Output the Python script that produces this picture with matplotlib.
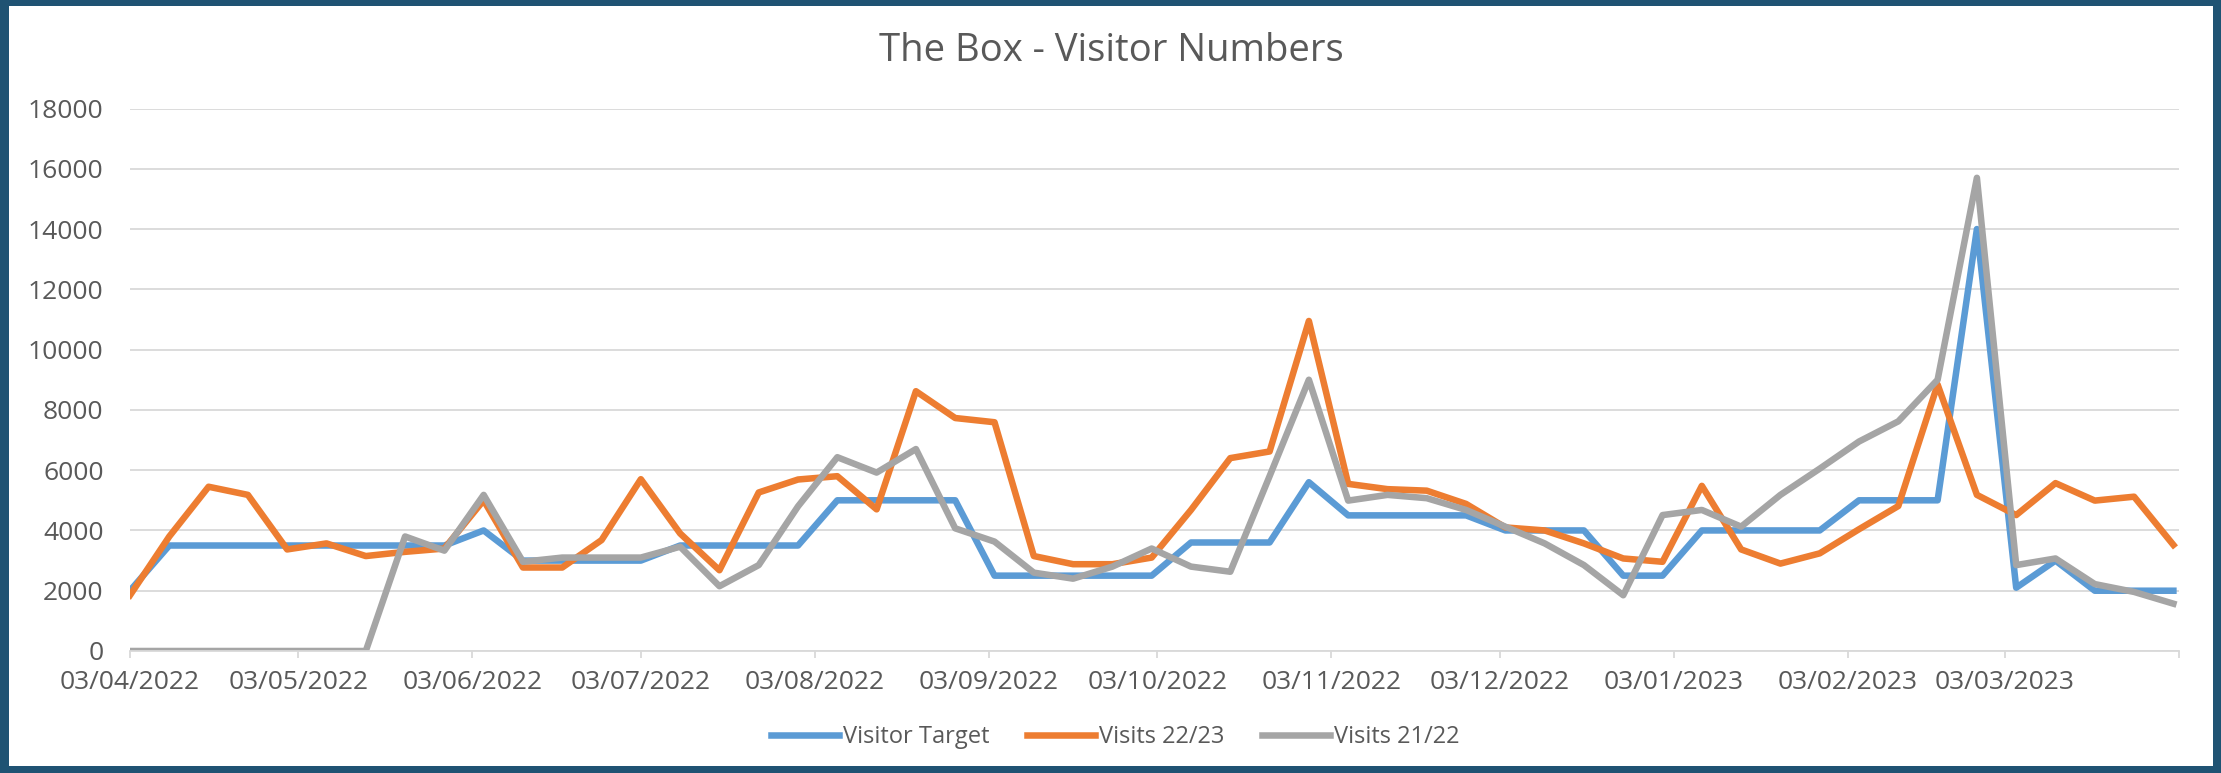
import datetime
import pandas as pd
import matplotlib
matplotlib.use('Agg')
import matplotlib.pyplot as plt
from matplotlib.patches import Rectangle

plt.rcParams['font.family'] = ['Open Sans', 'DejaVu Sans']

# weekly figures, first week starting 03/04/2022
weeks = pd.date_range('2022-04-03', periods=53, freq='7D')

visitor_target = [2000, 3500, 3500, 3500, 3500, 3500, 3500, 3500, 3500, 4000,
                  3000, 3000, 3000, 3000, 3500, 3500, 3500, 3500, 5000, 5000,
                  5000, 5000, 2500, 2500, 2500, 2500, 2500, 3600, 3600, 3600,
                  5600, 4500, 4500, 4500, 4500, 4000, 4000, 4000, 2500, 2500,
                  4000, 4000, 4000, 4000, 5000, 5000, 5000, 14000, 2100, 3000,
                  2000, 2000, 2000]

visits_22_23 = [1850, 3800, 5450, 5180, 3370, 3570, 3150, 3290, 3400, 5000,
                2770, 2770, 3680, 5700, 3900, 2680, 5260, 5690, 5800, 4700,
                8620, 7730, 7590, 3150, 2880, 2880, 3100, 4680, 6400, 6620,
                10950, 5545, 5370, 5320, 4880, 4100, 4000, 3570, 3070, 2960,
                5480, 3370, 2900, 3240, 4040, 4810, 8840, 5180, 4510, 5570,
                4990, 5120, 3520]

visits_21_22 = [0, 0, 0, 0, 0, 0, 0, 3800, 3330, 5180,
                2960, 3100, 3100, 3100, 3460, 2150, 2850, 4800, 6430, 5920,
                6700, 4070, 3630, 2600, 2400, 2800, 3400, 2800, 2630, 5800,
                9000, 4990, 5180, 5070, 4680, 4125, 3570, 2850, 1850, 4510,
                4680, 4125, 5180, 6050, 6950, 7620, 9000, 15700, 2850, 3070,
                2220, 1960, 1570]

series = [('Visitor Target', visitor_target, '#5B9BD5'),
          ('Visits 22/23', visits_22_23, '#ED7D31'),
          ('Visits 21/22', visits_21_22, '#A5A5A5')]

W, H = 2221, 773
fig = plt.figure(figsize=(W / 100, H / 100), dpi=100, facecolor='#1F5373')
fig.patches.append(Rectangle((9 / W, 7 / H), (W - 17) / W, (H - 13) / H,
                             transform=fig.transFigure, facecolor='white',
                             edgecolor='none', zorder=-5))

ax = fig.add_axes([130 / W, (H - 651) / H, 2049 / W, 542.5 / H])
ax.set_zorder(1)
ax.patch.set_alpha(0)

for name, vals, col in series:
    ax.plot(weeks, vals, color=col, lw=4.7, label=name, solid_joinstyle='round')

ax.set_ylim(0, 18000)
ax.set_yticks(range(0, 18001, 2000))
start = datetime.date(2022, 4, 3)
ax.set_xlim(start, datetime.date(2023, 4, 3))

month_ticks = [datetime.date(2022 + (3 + m) // 12, (3 + m) % 12 + 1, 3) for m in range(13)]
ax.set_xticks(month_ticks)
ax.set_xticklabels([d.strftime('%d/%m/%Y') for d in month_ticks[:-1]] + [''])

ax.grid(axis='y', color='#D9D9D9', lw=1.3)
ax.set_axisbelow(True)
for s in ['top', 'left', 'right']:
    ax.spines[s].set_visible(False)
ax.spines['bottom'].set_color('#D9D9D9')
ax.spines['bottom'].set_linewidth(1.3)

ax.tick_params(axis='y', length=0, pad=19, labelsize=19, labelcolor='#595959')
ax.tick_params(axis='x', length=5, width=1.3, color='#D9D9D9', pad=9,
               labelsize=19, labelcolor='#595959')

fig.text(1111 / W, 1 - 51 / H, 'The Box - Visitor Numbers', ha='center', va='center',
         fontsize=27.5, color='#595959')

fig.legend(loc='center', bbox_to_anchor=(1115 / W, 1 - 737 / H), ncol=3,
           frameon=False, fontsize=17, labelcolor='#595959', handlelength=2.9,
           handletextpad=0.15, columnspacing=1.6)

fig.savefig('out.png', dpi=100, facecolor=fig.get_facecolor())
